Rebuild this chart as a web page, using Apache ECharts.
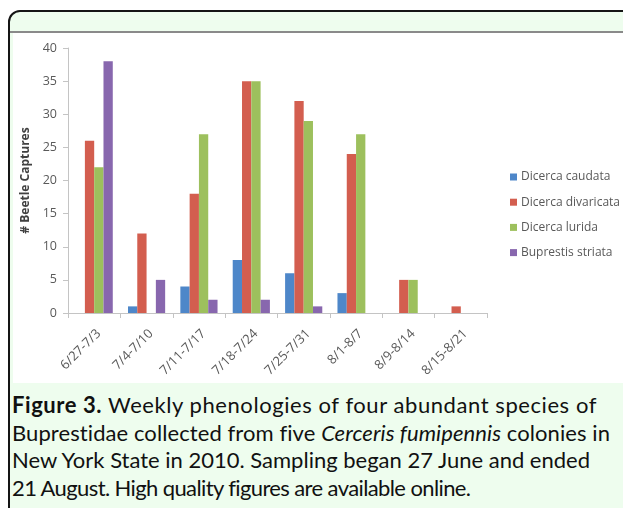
<!DOCTYPE html>
<html>
<head>
<meta charset="utf-8">
<script src="https://cdn.jsdelivr.net/npm/echarts@6/dist/echarts.min.js"></script>
<style>
  html, body { margin: 0; padding: 0; background: #ffffff; width: 623px; height: 508px; overflow: hidden; }
  #frame { position: absolute; left: 8px; top: 10px; width: 640px; height: 520px; box-sizing: border-box;
           border: 2px solid #151515; border-radius: 12px; background: #eefdee; }
  #rule { position: absolute; left: 10px; top: 31px; width: 613px; height: 2px; background: #8a8a8a; }
  #white { position: absolute; left: 13px; top: 33px; width: 610px; height: 350px; background: #ffffff; }
  #chart { position: absolute; left: 0; top: 0; width: 623px; height: 383px; }
  #caption { position: absolute; left: 12px; top: 391px; width: 611px; font-family: Lato, "Open Sans", sans-serif;
             font-size: 22px; line-height: 27.7px; color: #111; white-space: nowrap; }
  #caption div { display: block; }
  #caption span.l { display: inline-block; }
  #caption b { font-weight: 700; }
</style>
</head>
<body>
<div id="frame"></div>
<div id="rule"></div>
<div id="white"></div>
<div id="chart"></div>
<div id="caption">
  <div><span class="l"><b>Figure 3.</b> Weekly phenologies of four abundant species of</span></div>
  <div><span class="l">Buprestidae collected from five <i>Cerceris fumipennis</i> colonies in</span></div>
  <div><span class="l">New York State in 2010. Sampling began 27 June and ended</span></div>
  <div><span class="l">21 August. High quality figures are available online.</span></div>
</div>
<script>
const categories = ['6/27-7/3', '7/4-7/10', '7/11-7/17', '7/18-7/24', '7/25-7/31', '8/1-8/7', '8/9-8/14', '8/15-8/21'];
const seriesNames = ['Dicerca caudata', 'Dicerca divaricata', 'Dicerca lurida', 'Buprestis striata'];
const caudata    = [0, 1, 4, 8, 6, 3, 0, 0];
const divaricata = [26, 12, 18, 35, 32, 24, 5, 1];
const lurida     = [22, 0, 27, 35, 29, 27, 5, 0];
const striata    = [38, 5, 2, 2, 1, 0, 0, 0];
const yTicks = [0, 5, 10, 15, 20, 25, 30, 35, 40];
const yTitle = '# Beetle Captures';

// fit caption lines to the widths seen in the reference
const captionWidths = [585, 598, 578, 458];
document.querySelectorAll('#caption span.l').forEach((el, i) => {
  const w = el.getBoundingClientRect().width;
  const n = el.textContent.length;
  el.style.letterSpacing = ((captionWidths[i] - w) / n).toFixed(3) + 'px';
});

const colors = ['#4E87C9', '#D35E4F', '#9DC05D', '#8867AE'];
const values = [caudata, divaricata, lurida, striata];

const chart = echarts.init(document.getElementById('chart'), null, { renderer: 'canvas' });
const axisGray = '#c4c4c4';
const textGray = '#595959';
chart.setOption({
  animation: false,
  backgroundColor: 'transparent',
  color: colors,
  grid: { left: 68, right: 136, top: 48, bottom: 70, containLabel: false },
  legend: {
    orient: 'vertical',
    left: 505,
    top: 166,
    itemWidth: 7,
    itemHeight: 7,
    itemGap: 13.2,
    icon: 'rect',
    textStyle: { color: textGray, fontSize: 12, fontFamily: '"Open Sans", sans-serif', padding: [0, 0, 0, -1] },
    data: seriesNames
  },
  xAxis: {
    type: 'category',
    data: categories,
    axisLine: { lineStyle: { color: axisGray, width: 1 } },
    axisTick: { show: true, alignWithLabel: false, length: 5, lineStyle: { color: axisGray } },
    axisLabel: { rotate: 45, color: textGray, fontSize: 13, fontFamily: '"Open Sans", sans-serif',
                 margin: 14, interval: 0, verticalAlign: 'top' }
  },
  yAxis: {
    type: 'value',
    min: yTicks[0],
    max: yTicks[yTicks.length - 1],
    interval: yTicks[1] - yTicks[0],
    name: yTitle,
    nameLocation: 'middle',
    nameGap: 36,
    nameRotate: 90,
    nameTextStyle: { color: '#404040', fontSize: 12, fontWeight: 'bold', fontFamily: '"Open Sans", sans-serif' },
    axisLine: { show: true, lineStyle: { color: axisGray, width: 1 } },
    axisTick: { show: true, length: 5, inside: false, lineStyle: { color: axisGray } },
    splitLine: { show: false },
    axisLabel: { color: textGray, fontSize: 12.5, fontFamily: '"Open Sans", sans-serif', margin: 11 }
  },
  series: seriesNames.map((n, i) => ({
    name: n,
    type: 'bar',
    data: values[i],
    barGap: '0%',
    barCategoryGap: '29%',
    itemStyle: { color: colors[i] }
  }))
});
</script>
</body>
</html>
